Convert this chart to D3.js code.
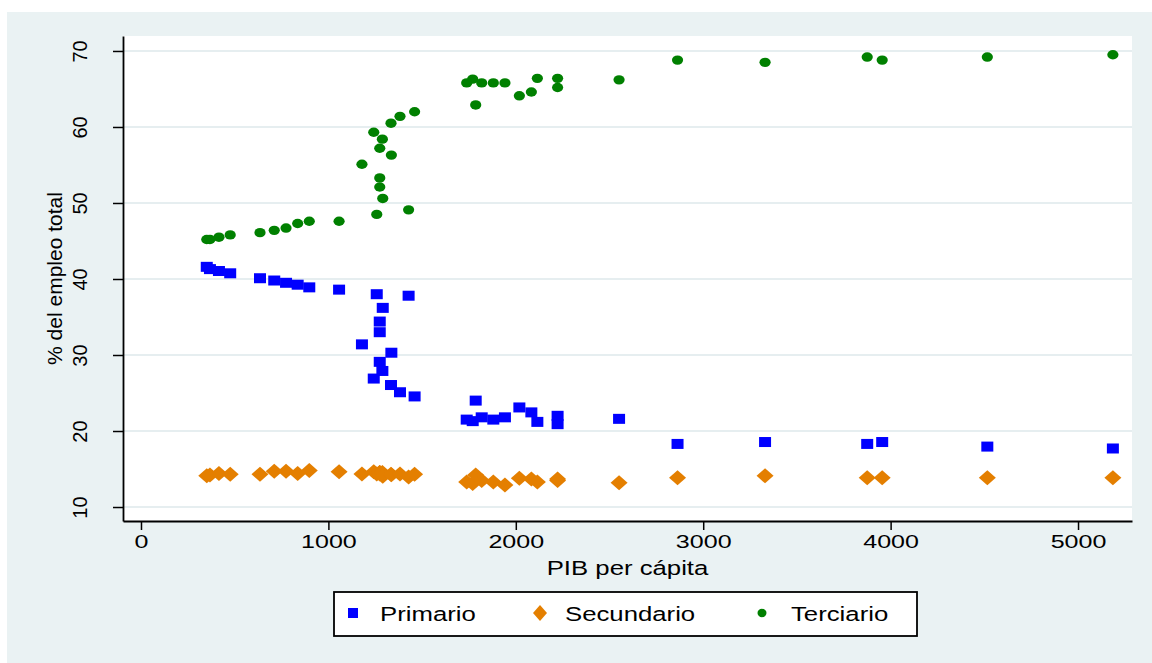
<!DOCTYPE html>
<html>
<head>
<meta charset="utf-8">
<script src="https://cdn.jsdelivr.net/npm/d3@7"></script>
<style>
  body { margin: 0; background: #ffffff; }
  text { font-family: "Liberation Sans", Arial, Helvetica, sans-serif; fill: #000; }
</style>
</head>
<body>
<svg id="chart" width="1152" height="663"></svg>
<script>
// PIB per cápita for each observation
const pib = [351, 368, 416, 476, 635, 711, 774, 836, 898, 1057,
  1179, 1242, 1258, 1274, 1274, 1274, 1288, 1290, 1334, 1336, 1382, 1428, 1460,
  1738, 1770, 1786, 1818, 1880, 1942, 2019, 2083, 2115, 2223, 2223,
  2551, 2863, 3330, 3875, 3955, 4516, 5186];

// % of total employment by sector
const primario = [41.6, 41.3, 41.05, 40.75, 40.1, 39.8, 39.5, 39.25, 38.9, 38.6,
  31.4, 26.9, 38.0, 29.1, 33.0, 34.4, 27.9, 36.2, 26.05, 30.3, 25.1, 37.8, 24.55,
  21.5, 21.3, 24.0, 21.8, 21.5, 21.8, 23.1, 22.45, 21.2, 20.9, 22.0,
  21.6, 18.3, 18.55, 18.3, 18.55, 17.95, 17.7];

const secundario = [14.1, 14.2, 14.4, 14.3, 14.3, 14.7, 14.7, 14.4, 14.8, 14.65,
  14.35, 14.65, 14.35, 14.55, 14.55, 14.35, 14.55, 14.05, 14.3, 14.25, 14.35, 13.95, 14.3,
  13.3, 13.1, 14.2, 13.5, 13.3, 12.9, 13.8, 13.7, 13.3, 13.5, 13.7,
  13.2, 13.85, 14.1, 13.85, 13.85, 13.85, 13.85];

const terciario = [45.2, 45.2, 45.5, 45.8, 46.1, 46.4, 46.7, 47.3, 47.6, 47.6,
  55.1, 59.3, 48.5, 57.2, 53.3, 52.1, 58.4, 50.6, 60.5, 56.3, 61.4, 49.1, 62.0,
  65.8, 66.3, 62.9, 65.8, 65.8, 65.8, 64.1, 64.6, 66.4, 66.4, 65.2,
  66.2, 68.8, 68.5, 69.2, 68.8, 69.2, 69.5];

const xTicks = [0, 1000, 2000, 3000, 4000, 5000];
const yTicks = [10, 20, 30, 40, 50, 60, 70];
const seriesNames = ["Primario", "Secundario", "Terciario"];
const xTitle = "PIB per cápita";
const yTitle = "% del empleo total";

const colors = { Primario: "#0000ff", Secundario: "#e47f00", Terciario: "#008000" };
const bg = "#eaf2f3";
const textStretch = 1.32;

const svg = d3.select("#chart");

// graph region and plot region
svg.append("rect").attr("x", 7).attr("y", 12).attr("width", 1145).attr("height", 651).attr("fill", bg);

const plot = { left: 123, right: 1132, top: 36, bottom: 521 };
svg.append("rect").attr("x", plot.left).attr("y", plot.top)
  .attr("width", plot.right - plot.left).attr("height", plot.bottom - plot.top)
  .attr("fill", "#ffffff");

const x = d3.scaleLinear().domain([-96, 5288]).range([plot.left, plot.right]);
const y = d3.scaleLinear().domain([8.16, 71.97]).range([plot.bottom, plot.top]);

// horizontal grid
svg.append("g").selectAll("line").data(yTicks).join("line")
  .attr("x1", plot.left).attr("x2", plot.right)
  .attr("y1", d => y(d)).attr("y2", d => y(d))
  .attr("stroke", "#e6eef0").attr("stroke-width", 2);

// markers
const rows = pib.map((p, i) => ({ p, primario: primario[i], secundario: secundario[i], terciario: terciario[i] }));
const marks = svg.append("g");

marks.append("g").selectAll("rect").data(rows).join("rect")
  .attr("x", d => x(d.p) - 6).attr("y", d => y(d.primario) - 5)
  .attr("width", 12).attr("height", 10)
  .attr("fill", colors.Primario);

const diamond = (cx, cy) => `M${cx - 8.5},${cy} L${cx},${cy - 7.5} L${cx + 8.5},${cy} L${cx},${cy + 7.5} Z`;
marks.append("g").selectAll("path").data(rows).join("path")
  .attr("d", d => diamond(x(d.p), y(d.secundario)))
  .attr("fill", colors.Secundario);

marks.append("g").selectAll("ellipse").data(rows).join("ellipse")
  .attr("cx", d => x(d.p)).attr("cy", d => y(d.terciario))
  .attr("rx", 5.6).attr("ry", 4.7)
  .attr("fill", colors.Terciario);

// axes
const xAxis = svg.append("g").attr("transform", `translate(0,${plot.bottom})`)
  .call(d3.axisBottom(x).tickValues(xTicks).tickSize(9).tickSizeOuter(0).tickFormat(d3.format("d")));
xAxis.select(".domain").attr("stroke", "#000").attr("stroke-width", 1.8);
xAxis.selectAll(".tick line").attr("stroke", "#000").attr("stroke-width", 1.5);
xAxis.selectAll(".tick text")
  .attr("y", null).attr("dy", null)
  .attr("transform", `translate(0,27) scale(${textStretch},1)`)
  .attr("font-size", 19).attr("fill", "#000")
  .attr("font-family", "Liberation Sans, Arial, sans-serif");

const yAxis = svg.append("g").attr("transform", `translate(${plot.left},0)`)
  .call(d3.axisLeft(y).tickValues(yTicks).tickSize(10).tickSizeOuter(0));
yAxis.select(".domain").attr("stroke", "#000").attr("stroke-width", 1.8);
yAxis.selectAll(".tick line").attr("stroke", "#000").attr("stroke-width", 1.5);
yAxis.selectAll(".tick text")
  .attr("x", null).attr("dy", null)
  .attr("text-anchor", "middle")
  .attr("transform", "translate(-36,0) rotate(-90)")
  .attr("font-size", 20).attr("fill", "#000")
  .attr("font-family", "Liberation Sans, Arial, sans-serif");

// axis titles
svg.append("text")
  .attr("transform", `translate(${(plot.left + plot.right) / 2},575) scale(${textStretch},1)`)
  .attr("text-anchor", "middle").attr("font-size", 19.5)
  .text(xTitle);

svg.append("text")
  .attr("transform", `translate(62,${(plot.top + plot.bottom) / 2}) rotate(-90)`)
  .attr("text-anchor", "middle").attr("font-size", 21)
  .text(yTitle);

// legend
const legend = svg.append("g");
legend.append("rect").attr("x", 334).attr("y", 592).attr("width", 583).attr("height", 44)
  .attr("fill", "#ffffff").attr("stroke", "#000").attr("stroke-width", 1.8);

const legendItems = [
  { name: seriesNames[0], mx: 353, tx: 380 },
  { name: seriesNames[1], mx: 540, tx: 565 },
  { name: seriesNames[2], mx: 762, tx: 791 }
];
const ly = 613;
legendItems.forEach(it => {
  const c = colors[it.name];
  if (it.name === "Primario") {
    legend.append("rect").attr("x", it.mx - 5).attr("y", ly - 5).attr("width", 10).attr("height", 10).attr("fill", c);
  } else if (it.name === "Secundario") {
    legend.append("path").attr("d", `M${it.mx - 7},${ly} L${it.mx},${ly - 8} L${it.mx + 7},${ly} L${it.mx},${ly + 8} Z`).attr("fill", c);
  } else {
    legend.append("ellipse").attr("cx", it.mx).attr("cy", ly).attr("rx", 4.5).attr("ry", 4.2).attr("fill", c);
  }
  legend.append("text")
    .attr("transform", `translate(${it.tx},621) scale(${textStretch},1)`)
    .attr("font-size", 19.5)
    .text(it.name);
});
</script>
</body>
</html>
